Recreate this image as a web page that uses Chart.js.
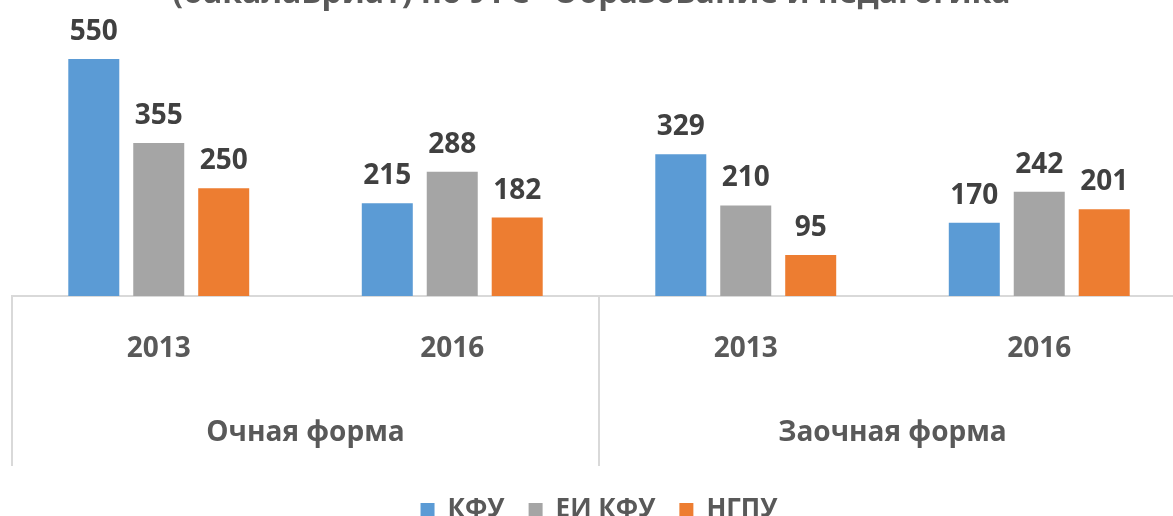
<!DOCTYPE html>
<html>
<head>
<meta charset="utf-8">
<script src="https://cdn.jsdelivr.net/npm/chart.js@4.4.0/dist/chart.umd.min.js"></script>
<style>
  html, body { margin: 0; padding: 0; overflow: hidden; background: #fff; }
  #wrap { position: absolute; left: 0; top: -40px; width: 1190px; height: 573px; }
</style>
</head>
<body>
<div id="wrap"><canvas id="c"></canvas></div>
<script>
// Bachelor intake by form of study — clustered bars with a two-level category axis
const titleText = '(бакалавриат) по УГС "Образование и педагогика"';
const years = ['2013', '2016', '2013', '2016'];
const groups = ['Очная форма', 'Заочная форма'];
const kfu = [550, 215, 329, 170];
const eiKfu = [355, 288, 210, 242];
const ngpu = [250, 182, 95, 201];

const FONT = '"Open Sans", "Noto Sans", sans-serif';
const TEXT = '#595959';
const LINE = '#d9d9d9';

// value labels above each bar + group labels and separators under the axis
const extras = {
    id: 'extras',
    afterDatasetsDraw(chart) {
        const ctx = chart.ctx;
        ctx.save();
        ctx.font = 'bold 28px ' + FONT;
        ctx.fillStyle = '#404040';
        ctx.textAlign = 'center';
        ctx.textBaseline = 'alphabetic';
        chart.data.datasets.forEach((ds, i) => {
            chart.getDatasetMeta(i).data.forEach((bar, j) => {
                ctx.fillText(String(ds.data[j]), bar.x, bar.y - 19);
            });
        });
        ctx.restore();
    },
    afterDraw(chart) {
        const ctx = chart.ctx;
        const x = chart.scales.x;
        const half = (x.getPixelForValue(1) - x.getPixelForValue(0)) / 2;
        const top = chart.chartArea.bottom;
        const bottom = top + 170;
        ctx.save();
        ctx.strokeStyle = LINE;
        ctx.lineWidth = 2;
        const edges = [x.getPixelForValue(0) - half, x.getPixelForValue(2) - half, x.getPixelForValue(3) + half];
        for (const e of edges) {
            ctx.beginPath();
            ctx.moveTo(e, top);
            ctx.lineTo(e, bottom);
            ctx.stroke();
        }
        ctx.font = 'bold 28px ' + FONT;
        ctx.fillStyle = TEXT;
        ctx.textAlign = 'center';
        ctx.textBaseline = 'middle';
        groups.forEach((g, i) => {
            const cx = (x.getPixelForValue(i * 2) + x.getPixelForValue(i * 2 + 1)) / 2;
            ctx.fillText(g, cx, top + 137);
        });
        ctx.restore();
    }
};

new Chart(document.getElementById('c'), {
    type: 'bar',
    data: {
        labels: years,
        datasets: [
            { label: 'КФУ', data: kfu, backgroundColor: '#5B9BD5' },
            { label: 'ЕИ КФУ', data: eiKfu, backgroundColor: '#A5A5A5' },
            { label: 'НГПУ', data: ngpu, backgroundColor: '#ED7D31' }
        ]
    },
    options: {
        responsive: true,
        maintainAspectRatio: false,
        animation: false,
        categoryPercentage: 0.664,
        barPercentage: 0.785,
        layout: { padding: { left: 12, right: 4, top: 0, bottom: 0 } },
        plugins: {
            title: {
                display: true,
                text: titleText,
                color: TEXT,
                font: { family: FONT, size: 32, weight: 'bold' },
                padding: { top: 15, bottom: 24 }
            },
            legend: {
                position: 'bottom',
                labels: {
                    color: TEXT,
                    font: { family: FONT, size: 26, weight: 'bold' },
                    boxWidth: 14,
                    boxHeight: 14,
                    padding: 24
                }
            },
            tooltip: { enabled: false }
        },
        scales: {
            x: {
                grid: { display: false },
                border: { display: true, color: LINE, width: 2 },
                ticks: { color: TEXT, font: { family: FONT, size: 28, weight: 'bold' }, padding: 28 },
                afterFit: (s) => { s.height = 177; }
            },
            y: { display: false, min: 0, max: 600 }
        }
    },
    plugins: [extras]
});
</script>
</body>
</html>
